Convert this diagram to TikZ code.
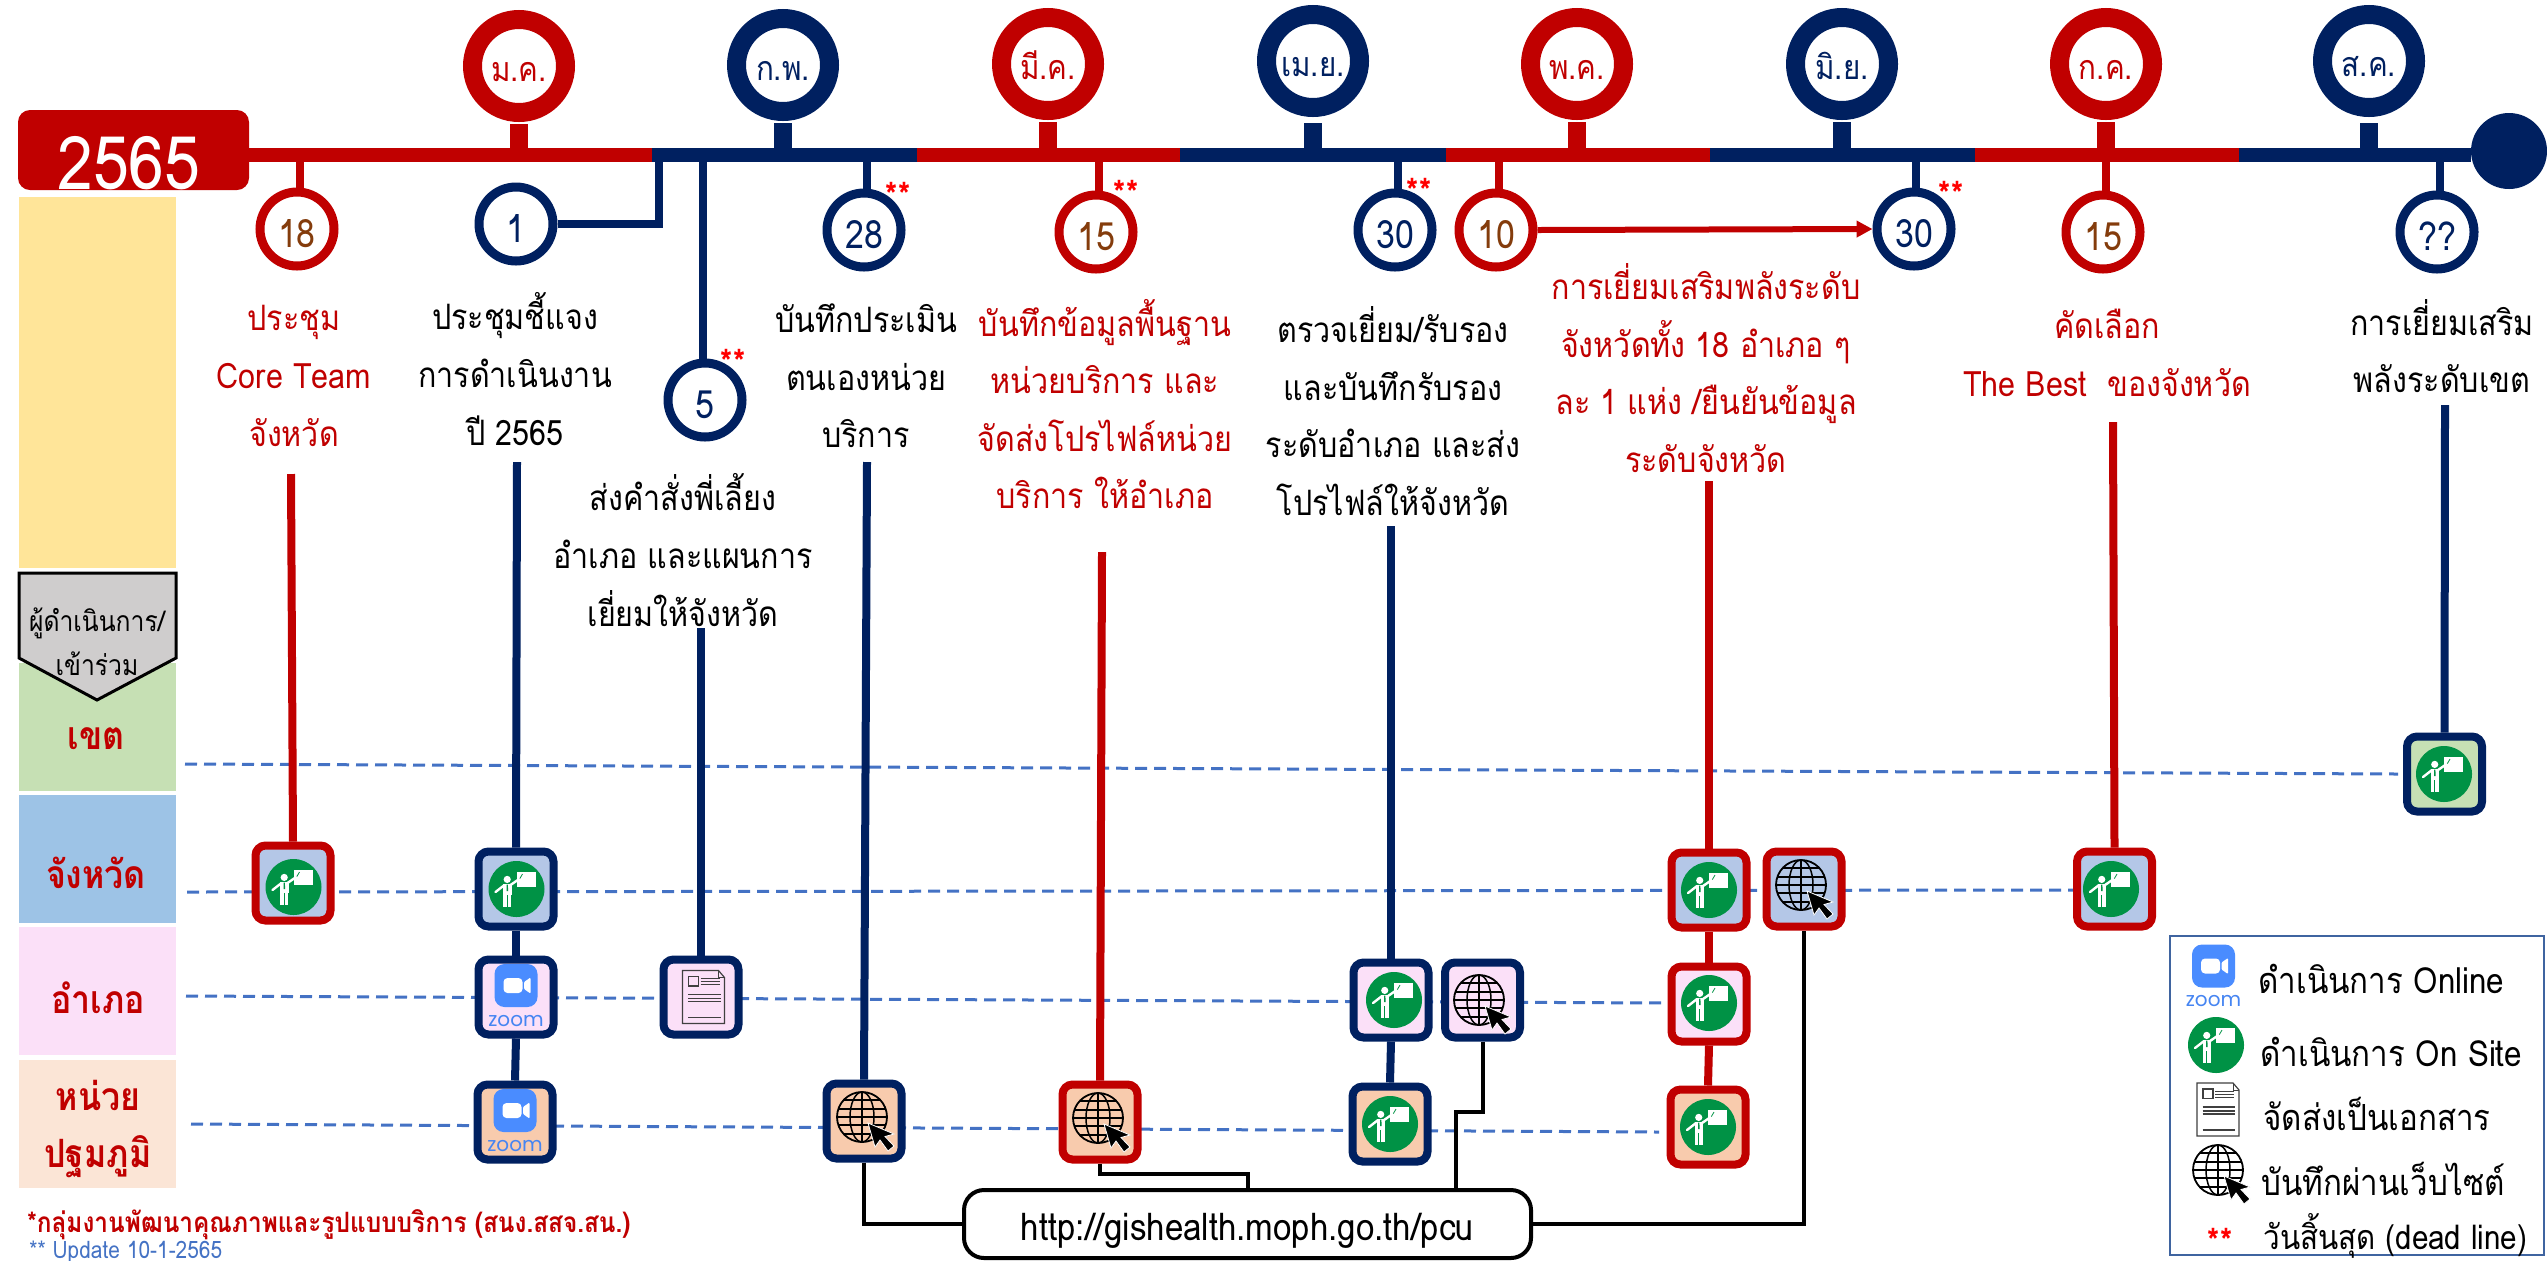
\documentclass[tikz,border=0pt]{standalone}
\usepackage{fontspec}
\usetikzlibrary{arrows.meta,calc}
\newfontfamily\thaifont[Script=Thai,FakeStretch=0.87]{Loma}
\newfontfamily\zoomfont{Poppins}
\newcommand{\lowmon}[1]{\raisebox{-7.5pt}[0pt][0pt]{#1}}
\newcommand{\lowday}[1]{\raisebox{-9pt}[0pt][0pt]{#1}}
\definecolor{cred}{HTML}{C00000}
\definecolor{cnavy}{HTML}{002060}
\definecolor{cbrown}{HTML}{843C0C}
\definecolor{dashblue}{HTML}{4472C4}
\definecolor{barYellow}{HTML}{FFE599}
\definecolor{barGreen}{HTML}{C6E0B4}
\definecolor{barBlue}{HTML}{9DC3E6}
\definecolor{barPink}{HTML}{FBE0F8}
\definecolor{barPeach}{HTML}{FBE5D6}
\definecolor{fillBlue}{HTML}{B4C7E7}
\definecolor{fillPeach}{HTML}{F8CBAD}
\definecolor{greyhead}{HTML}{CFCDCD}
\definecolor{greenicon}{HTML}{009245}
\definecolor{zoomblue}{HTML}{4A8CFF}
\definecolor{legendline}{HTML}{3F64A0}
\tikzset{
  mon/.style={circle,draw=#1,line width=9.5pt,fill=white,minimum size=46.5pt,inner sep=0pt,text=#1,font=\thaifont\fontsize{17}{20}\selectfont},
  dayc/.style={circle,draw=#1,line width=4.5pt,fill=white,minimum size=37pt,inner sep=0pt,font=\thaifont\fontsize{19.5}{20}\selectfont},
  boxn/.style 2 args={rectangle,rounded corners=5pt,draw=#1,fill=#2,line width=4pt,minimum size=37.5pt,inner sep=0pt},
  stemm/.style={draw=#1,line width=9pt},
  stemd/.style={draw=#1,line width=4pt},
  seg/.style={draw=#1,line width=7pt},
  vline/.style={draw=#1,line width=4pt},
  blk/.style={draw=black,line width=2pt},
  dashl/.style={draw=dashblue,line width=1.5pt,dash pattern=on 6pt off 3.5pt},
  bar/.style={fill=#1,draw=none},
  lbl/.style={align=center,inner sep=0pt,text=#1,font=\thaifont\fontsize{17.5}{28.8}\selectfont},
  rowl/.style={align=center,inner sep=0pt,text=cred,font=\thaifont\bfseries\fontsize{19.5}{28.8}\selectfont},
  legt/.style={anchor=west,inner sep=0pt,text=black,font=\thaifont\fontsize{18}{20}\selectfont},
  stars/.style={inner sep=0pt,text=red,font=\thaifont\bfseries\fontsize{18}{18}\selectfont},
  onsite/.pic={
    \fill[greenicon] (0,0) circle[radius=28];
    \fill[white] (0,-17) rectangle (19,-2.5);
    \fill[white] (-9.3,-9.6) circle[radius=3.6];
    \fill[white] (-13.3,-5) rectangle (-5,6.4);
    \fill[white] (-13.3,6.4) rectangle (-10,17.9);
    \fill[white] (-8.6,6.4) rectangle (-5.3,17.9);
    \draw[white,line width=1.2pt,line cap=round] (-12,-4) -- (-21,3);
    \draw[white,line width=1.2pt,line cap=round] (-6,-4) -- (3.3,-10.4);
    \draw[greenicon,line width=0.4pt] (3.3,-10.4) -- (6,-15);
    \fill[greenicon] (-9.8,-4.5) -- (-8.6,-4.5) -- (-8.4,2) -- (-10,2) -- cycle;
  },
  zoomi/.pic={
    \fill[zoomblue,rounded corners=5pt] (-21.5,-33) rectangle (21.5,10);
    \fill[white,rounded corners=2pt] (-12.5,-19) rectangle (6.5,-4);
    \fill[white,rounded corners=0.5pt] (8,-15) -- (14.5,-19.5) -- (14.5,-3.5) -- (8,-8) -- cycle;
    \node[inner sep=0pt,text=zoomblue!95!black,font=\zoomfont\fontsize{10}{10}\selectfont] (zt) at (0,23.5) {zoom};
  },
  doci/.pic={
    \draw[draw=black!75,line width=0.6pt] (-21,-27) -- (15,-27) -- (21,-20) -- (21,26) -- (-21,26) -- cycle;
    \draw[draw=black!75,line width=0.5pt] (15,-27) -- (15,-20) -- (21,-20);
    \draw[draw=black!75,line width=0.6pt] (-15,-21) rectangle (-5,-11.5);
    \foreach \yy in {-19,-16,-13}{\draw[draw=black!75,line width=0.5pt] (-3,\yy) -- (16,\yy);}
    \foreach \yy in {-3,1,4}{\draw[draw=black!75,line width=0.6pt] (-15.5,\yy) -- (17,\yy);}
    \draw[draw=black!75,line width=0.6pt] (-15.5,20) -- (17,20);
  },
  globei/.pic={
    \draw[black,line width=0.9pt] (0,0) circle[radius=25];
    \draw[black,line width=0.75pt] (0,0) ellipse[x radius=12,y radius=25];
    \draw[black,line width=0.75pt] (0,-25) -- (0,25);
    \draw[black,line width=0.75pt] (-25,0) -- (25,0);
    \draw[black,line width=0.75pt] (-23.7,-8) -- (23.7,-8) (-18.3,-17) -- (18.3,-17);
    \draw[black,line width=0.75pt] (-23.7,8) -- (23.7,8) (-18.3,17) -- (18.3,17);
    \fill[black,draw=white,line width=0.4pt] (6,6) -- (13,30) -- (18,23) -- (26,34) -- (32,29) -- (23,19.5) -- (32,17) -- cycle;
  }
}
\begin{document}
\begin{tikzpicture}[x=0.5pt,y=-0.5pt]
\useasboundingbox (0,0) rectangle (2547,1260);
\clip (0,0) rectangle (2547,1260);
% left bars
\path[bar=barYellow] (19,197) rectangle (176,568);
\path[bar=barGreen] (19,663) rectangle (176,791);
\path[bar=barBlue] (19,795) rectangle (176,923);
\path[bar=barPink] (19,927) rectangle (176,1055);
\path[bar=barPeach] (19,1060) rectangle (176,1188);
\draw[black,fill=greyhead,line width=1.5pt] (19,573) -- (176,573) -- (176,658) -- (97,700) -- (19,658) -- cycle;
\node[align=center,inner sep=0pt,font=\thaifont\fontsize{14.2}{22}\selectfont] (headtxt) at (97,642) {ผู้ดำเนินการ/\\เข้าร่วม};
\node[rowl] (rk) at (96,739) {เขต};
\node[rowl] (rc) at (96,873) {จังหวัด};
\node[rowl] (ra) at (98,998) {อำเภอ};
\node[rowl] (rp) at (98,1129) {หน่วย\\ปฐมภูมิ};
% dashed rows
\coordinate (d1a) at (185,764); \coordinate (d1b) at (2398,774);
\coordinate (d2a) at (187,892); \coordinate (d2b) at (2073,890);
\coordinate (d3a) at (186,996); \coordinate (d3b) at (1668,1003);
\coordinate (d4a) at (191,1124); \coordinate (d4b) at (1659,1132);
\draw[dashl] (d1a) -- (d1b);
\draw[dashl] (d2a) -- (d2b);
\draw[dashl] (d3a) -- (d3b);
\draw[dashl] (d4a) -- (d4b);
% timeline
\coordinate (t1) at (652,155); \coordinate (t2) at (917,155); \coordinate (t3) at (1180,155);
\coordinate (t4) at (1446,155); \coordinate (t5) at (1710,155); \coordinate (t6) at (1975,155);
\coordinate (t7) at (2239,155);
\node[fill=cnavy,circle,minimum size=38pt,inner sep=0pt] (tend) at (2509,151) {};
\node[fill=cred,rounded corners=6pt,minimum width=115.5pt,minimum height=40pt,inner sep=0pt] (year) at (133.5,150) {};
\node[inner sep=0pt,text=white,font=\thaifont\fontsize{37}{37}\selectfont] (yeartxt) at (129,163) {2565};
\path[seg=cred] (year.east |- t1) -- (t1);
\path[seg=cnavy] (t1) -- (t2);
\path[seg=cred] (t2) -- (t3);
\path[seg=cnavy] (t3) -- (t4);
\path[seg=cred] (t4) -- (t5);
\path[seg=cnavy] (t5) -- (t6);
\path[seg=cred] (t6) -- (t7);
\path[seg=cnavy] (t7) -- (tend.west |- t7);
% months
\node[mon=cred] (m1) at (519,66) {\lowmon{ม.ค.}};
\node[mon=cnavy] (m2) at (783,65) {\lowmon{ก.พ.}};
\node[mon=cred] (m3) at (1048,64) {\lowmon{มี.ค.}};
\node[mon=cnavy] (m4) at (1313,61) {\lowmon{เม.ย.}};
\node[mon=cred] (m5) at (1577,64) {\lowmon{พ.ค.}};
\node[mon=cnavy] (m6) at (1842,64) {\lowmon{มิ.ย.}};
\node[mon=cred] (m7) at (2106,64) {\lowmon{ก.ค.}};
\node[mon=cnavy] (m8) at (2369,61) {\lowmon{ส.ค.}};
\path[stemm=cred] ([yshift=-1pt]m1.south) -- (m1.south |- t1);
\path[stemm=cnavy] ([yshift=-1pt]m2.south) -- (m2.south |- t1);
\path[stemm=cred] ([yshift=-1pt]m3.south) -- (m3.south |- t1);
\path[stemm=cnavy] ([yshift=-3pt]m4.south) -- (m4.south |- t1);
\path[stemm=cred] ([yshift=-1pt]m5.south) -- (m5.south |- t1);
\path[stemm=cnavy] ([yshift=-1pt]m6.south) -- (m6.south |- t1);
\path[stemm=cred] ([yshift=-1pt]m7.south) -- (m7.south |- t1);
\path[stemm=cnavy] ([yshift=-3pt]m8.south) -- (m8.south |- t1);
% day circles
\node[dayc=cred,text=cbrown] (a18) at (297,229) {\lowday{18}};
\node[dayc=cnavy,text=cnavy] (a1) at (516,224) {\lowday{1}};
\node[dayc=cnavy,text=cnavy] (a5) at (705,400) {\lowday{5}};
\node[dayc=cnavy,text=cnavy] (a28) at (864,230) {\lowday{28}};
\node[dayc=cred,text=cbrown] (a15) at (1096,232) {\lowday{15}};
\node[dayc=cnavy,text=cnavy] (a30) at (1395,230) {\lowday{30}};
\node[dayc=cred,text=cbrown] (a10) at (1496,230) {\lowday{10}};
\node[dayc=cnavy,text=cnavy] (a30b) at (1914,229) {\lowday{30}};
\node[dayc=cred,text=cbrown] (a15b) at (2103,232) {\lowday{15}};
\node[dayc=cnavy,text=cnavy] (aq) at (2437,232) {\lowday{??}};
\coordinate (s18) at (300,155); \coordinate (s1) at (659,155); \coordinate (s5) at (703,155);
\coordinate (s28) at (867,155); \coordinate (s15) at (1099,155); \coordinate (s30) at (1398,155);
\coordinate (s10) at (1499,155); \coordinate (s30b) at (1916,155); \coordinate (s15b) at (2106,155); \coordinate (sq) at (2440,155);
\path[stemd=cred] (s18) -- (s18 |- a18.north);
\path[stemd=cnavy] (a1.east) -| (s1);
\path[stemd=cnavy] (s5) -- (s5 |- a5.north);
\path[stemd=cnavy] (s28) -- (s28 |- a28.north);
\path[stemd=cred] (s15) -- (s15 |- a15.north);
\path[stemd=cnavy] (s30) -- (s30 |- a30.north);
\path[stemd=cred] (s10) -- (s10 |- a10.north);
\path[stemd=cnavy] (s30b) -- (s30b |- a30b.north);
\path[stemd=cred] (s15b) -- (s15b |- a15b.north);
\path[stemd=cnavy] (sq) -- (sq |- aq.north);
\draw[cred,line width=3pt,-{Triangle[length=8pt,width=8pt]}] (a10.east) -- (a30b.west);
% stars
\node[stars] (st28) at (898,195) {**};
\node[stars] (st5) at (733,362) {**};
\node[stars] (st15) at (1126,193) {**};
\node[stars] (st30) at (1419,191) {**};
\node[stars] (st30b) at (1951,194) {**};
% texts
\node[lbl=cred] (x18) at (294,376) {ประชุม\\Core Team\\จังหวัด};
\node[lbl=black] (x1) at (515,369) {ประชุมชี้แจง\\การดำเนินงาน\\ปี 2565};
\node[lbl=black] (x5) at (683,550) {ส่งคำสั่งพี่เลี้ยง\\อำเภอ และแผนการ\\เยี่ยมให้จังหวัด};
\node[lbl=black] (x28) at (866,376) {บันทึกประเมิน\\ตนเองหน่วย\\บริการ};
\node[lbl=cred] (x15) at (1105,404) {บันทึกข้อมูลพื้นฐาน\\หน่วยบริการ และ\\จัดส่งโปรไฟล์หน่วย\\บริการ ให้อำเภอ};
\node[lbl=black] (x30) at (1393,411) {ตรวจเยี่ยม/รับรอง\\และบันทึกรับรอง\\ระดับอำเภอ และส่ง\\โปรไฟล์ให้จังหวัด};
\node[lbl=cred] (x10) at (1706,368) {การเยี่ยมเสริมพลังระดับ\\จังหวัดทั้ง 18 อำเภอ ๆ\\ละ 1 แห่ง /ยืนยันข้อมูล\\ระดับจังหวัด};
\node[lbl=cred] (x15b) at (2107,353) {คัดเลือก\\The Best~~ของจังหวัด};
\node[lbl=black] (xq) at (2442,346) {การเยี่ยมเสริม\\พลังระดับเขต};
% boxes
\node[boxn={cred}{fillBlue}] (b18) at (293,883) {};
\node[boxn={cnavy}{fillBlue}] (b1) at (516,889) {};
\node[boxn={cnavy}{barPink}] (b1z) at (516,997) {};
\node[boxn={cnavy}{fillPeach}] (b1p) at (515,1122) {};
\node[boxn={cnavy}{barPink}] (b5) at (701,997) {};
\node[boxn={cnavy}{fillPeach}] (b28) at (864,1121) {};
\node[boxn={cred}{fillPeach}] (b15) at (1100,1122) {};
\node[boxn={cnavy}{barPink}] (b30) at (1391,1000) {};
\node[boxn={cnavy}{barPink}] (b30g) at (1482.5,1000) {};
\node[boxn={cnavy}{fillPeach}] (b30p) at (1390,1124) {};
\node[boxn={cred}{fillBlue}] (b10c) at (1709,890) {};
\node[boxn={cred}{fillBlue}] (b10g) at (1804,889) {};
\node[boxn={cred}{barPink}] (b10a) at (1709,1004) {};
\node[boxn={cred}{fillPeach}] (b10p) at (1708,1127) {};
\node[boxn={cred}{fillBlue}] (b15b) at (2114.5,889) {};
\node[boxn={cnavy}{barGreen}] (bq) at (2444.5,774) {};
% long connectors
\coordinate (v18) at (291,474); \coordinate (v1) at (517,462); \coordinate (v5) at (701,628);
\coordinate (v28) at (867,462); \coordinate (v15) at (1102,552); \coordinate (v30) at (1391,526);
\coordinate (v10) at (1709,481); \coordinate (v15b) at (2113,422); \coordinate (vq) at (2445,405);
\path[vline=cred] (v18) -- (b18.north);
\path[vline=cnavy] (v1) -- (b1.north);
\path[vline=cnavy] (b1.south) -- (b1z.north);
\path[vline=cnavy] (b1z.south) -- (b1p.north);
\path[vline=cnavy] (v5) -- (b5.north);
\path[vline=cnavy] (v28) -- (b28.north);
\path[vline=cred] (v15) -- (b15.north);
\path[vline=cnavy] (v30) -- (b30.north);
\path[vline=cnavy] (b30.south) -- (b30p.north);
\path[vline=cred] (v10) -- (b10c.north);
\path[vline=cred] (b10c.south) -- (b10a.north);
\path[vline=cred] (b10a.south) -- (b10p.north);
\path[vline=cred] (v15b) -- (b15b.north);
\path[vline=cnavy] (vq) -- (bq.north);
% icons
\pic at (293.5,887) {onsite};
\pic at (516.5,889) {onsite};
\pic at (516,997) {zoomi};
\pic at (515,1122) {zoomi};
\pic at (703.5,997.5) {doci};
\pic at (862,1117) {globei};
\pic at (1098,1118) {globei};
\pic at (1394,1000) {onsite};
\pic at (1479,1000) {globei};
\pic at (1390,1124) {onsite};
\pic at (1709,890) {onsite};
\pic at (1801,885) {globei};
\pic at (1709,1003) {onsite};
\pic at (1708,1127) {onsite};
\pic at (2111,889) {onsite};
\pic at (2444,774) {onsite};
% pill
\node[draw=black,line width=2pt,fill=white,rounded corners=10pt,minimum width=283.5pt,minimum height=34pt,inner sep=0pt,text=black,font=\thaifont\fontsize{19}{20}\selectfont] (pill) at (1247.5,1224) {\raisebox{-8pt}[0pt][0pt]{http://gishealth.moph.go.th/pcu}};
\coordinate (k1) at (1248,1174);
\coordinate (k2) at (1456,1112);
\path[blk] (b28.south) |- (pill.west);
\path[blk] (b15.south) |- (k1) -- (k1 |- pill.north);
\path[blk] (b30g.south) |- (k2) -- (k2 |- pill.north);
\path[blk] (pill.east) -| (b10g.south);
% footer
\node[anchor=west,inner sep=0pt,text=cred,font=\thaifont\bfseries\fontsize{14}{15}\selectfont] (foot1) at (27,1225) {*กลุ่มงานพัฒนาคุณภาพและรูปแบบบริการ (สนง.สสจ.สน.)};
\node[anchor=base west,inner sep=0pt,text=dashblue,font=\thaifont\fontsize{12}{13}\selectfont] (foot2) at (29,1258) {\raisebox{0pt}[0pt][0pt]{** Update 10-1-2565}};
% legend
\node[draw=legendline,line width=1.25pt,fill=white,minimum width=187pt,minimum height=159.5pt,inner sep=0pt] (legend) at (2357,1095.5) {};
\pic at (2213.5,977.5) {zoomi};
\pic at (2216,1045) {onsite};
\pic at (2218,1110) {doci};
\pic at (2218,1170) {globei};
\node[legt] (l1) at (2258,979) {ดำเนินการ Online};
\node[legt] (l2) at (2260,1052) {ดำเนินการ On Site};
\node[legt] (l3) at (2263,1114) {จัดส่งเป็นเอกสาร};
\node[legt] (l4) at (2261,1179) {บันทึกผ่านเว็บไซต์};
\node[stars,anchor=base] (l5s) at (2220,1254) {\raisebox{0pt}[0pt][0pt]{**}};
\node[legt,font=\thaifont\fontsize{17}{20}\selectfont] (l5) at (2263,1236) {วันสิ้นสุด (dead line)};
\end{tikzpicture}
\end{document}
